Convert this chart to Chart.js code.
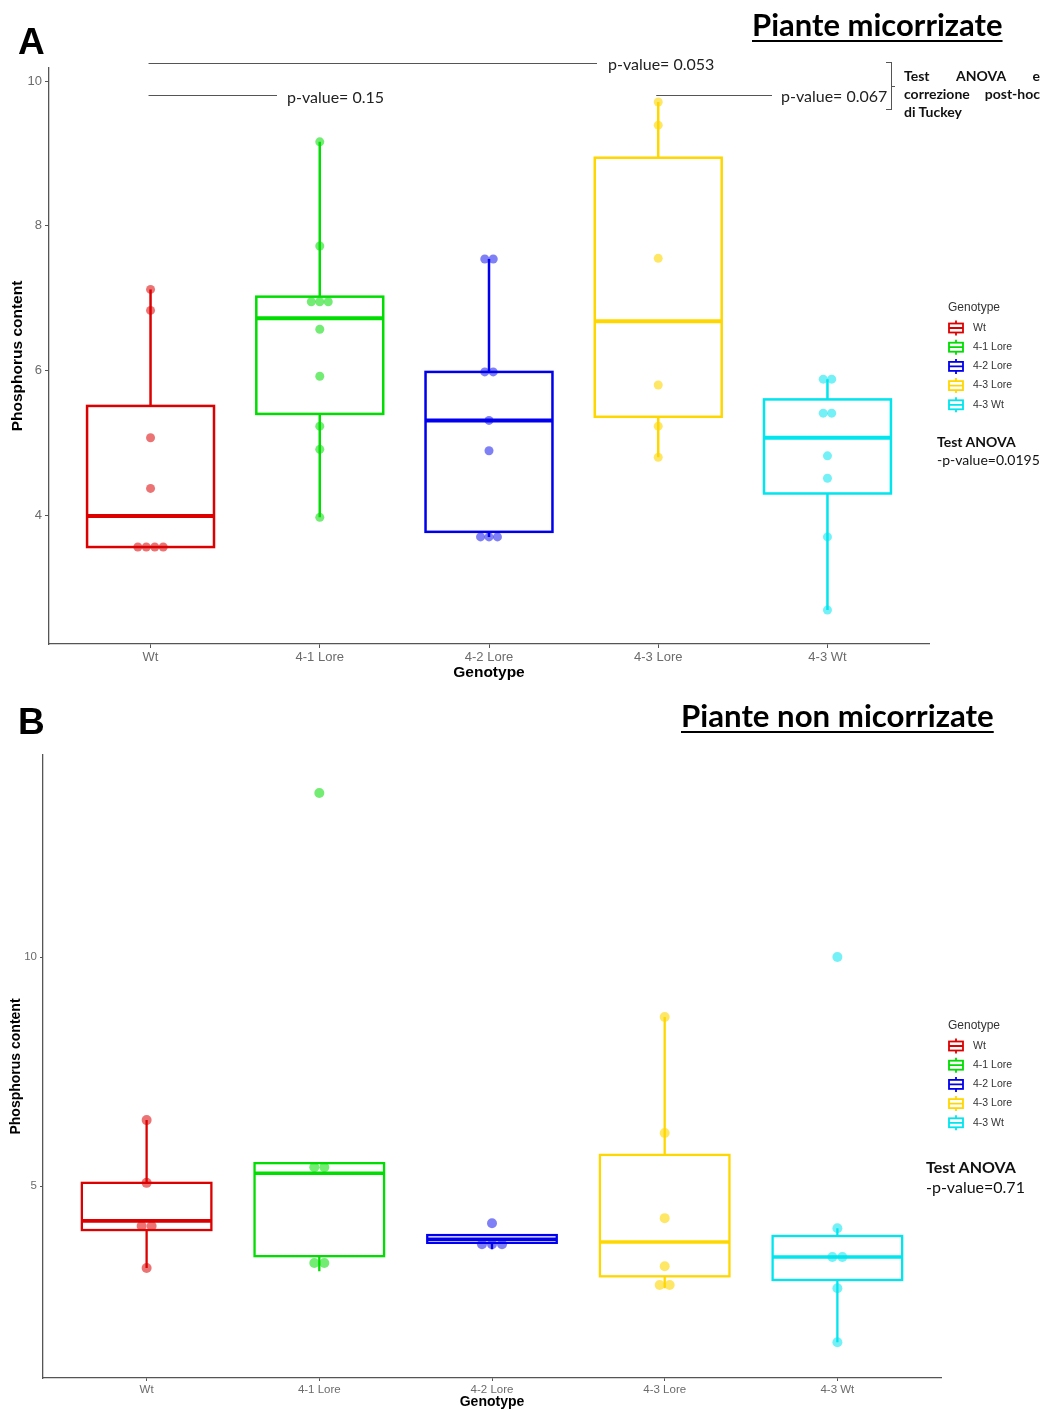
<!DOCTYPE html>
<html lang="it">
<head>
    <meta charset="UTF-8">
    <title>Phosphorus content</title>
    <script src="https://cdn.jsdelivr.net/npm/chart.js"></script>
    <style>
        body {
            margin: 0;
            width: 1043px;
            height: 1411px;
            position: relative;
            overflow: hidden;
            background: #fff;
        }
        canvas { position: absolute; left: 0; }
        #chartA { top: 0; }
        #chartB { top: 690px; }
        .txt {
            position: absolute;
            line-height: 1;
            white-space: nowrap;
            color: #000;
            z-index: 2;
        }
        .panel { font: bold 37px 'Liberation Sans', Arial, sans-serif; }
        .title {
            font-family: Lato, 'Open Sans', sans-serif;
            font-weight: bold;
            text-decoration: underline;
            text-decoration-thickness: 2px;
            text-underline-offset: 4px;
        }
        .pval { font: 16px Lato, sans-serif; color: #222; }
        .tukey {
            position: absolute;
            left: 904px;
            top: 66.6px;
            width: 136px;
            font: bold 14px/18px Lato, sans-serif;
            color: #111;
        }
        .tukey div { text-align: justify; text-align-last: justify; }
        .tukey div.last { text-align: left; text-align-last: left; }
        .anova { position: absolute; font-family: Lato, sans-serif; color: #111; }
        .anova b { display: block; }
        .brace {
            position: absolute;
            left: 886px;
            top: 62px;
            width: 5px;
            height: 46px;
            border: 1px solid #555;
            border-left: none;
        }
        .brace::after {
            content: '';
            position: absolute;
            left: 5px;
            top: 23px;
            width: 4px;
            border-top: 1px solid #555;
        }
    </style>
</head>
<body>
    <canvas id="chartA" width="1043" height="690"></canvas>
    <canvas id="chartB" width="1043" height="721"></canvas>

    <div class="txt panel" style="left:18px; top:20.7px;">A</div>
    <div class="txt title" style="left:752px; top:8.5px; font-size:31px;">Piante micorrizate</div>
    <div class="txt pval" style="left:608px; top:53.8px;">p-value= 0.053</div>
    <div class="txt pval" style="left:287px; top:86.5px;">p-value= 0.15</div>
    <div class="txt pval" style="left:781px; top:86px;">p-value= 0.067</div>
    <div class="brace"></div>
    <div class="tukey">
        <div>Test ANOVA e</div>
        <div>correzione post-hoc</div>
        <div class="last">di Tuckey</div>
    </div>
    <div class="anova" style="left:937px; top:432.6px; font-size:14px; line-height:18px;">
        <b>Test ANOVA</b>-p-value=0.0195
    </div>

    <div class="txt panel" style="left:18px; top:700.7px;">B</div>
    <div class="txt title" style="left:681px; top:699.5px; font-size:31.2px;">Piante non micorrizate</div>
    <div class="anova" style="left:926px; top:1157.4px; font-size:16px; line-height:20px;">
        <b>Test ANOVA</b>-p-value=0.71
    </div>

    <script>
        const genotypes = ['Wt', '4-1 Lore', '4-2 Lore', '4-3 Lore', '4-3 Wt'];

        // A - piante micorrizate
        const pointsA = [
            [7.12, 6.83, 5.07, 4.37, 3.56, 3.56, 3.56, 3.56],
            [9.16, 7.72, 6.95, 6.95, 6.95, 6.57, 5.92, 5.23, 4.91, 3.97],
            [7.54, 7.54, 5.98, 5.98, 5.31, 4.89, 3.70, 3.70, 3.70],
            [9.71, 9.39, 7.55, 5.80, 5.23, 4.80],
            [5.88, 5.88, 5.41, 5.41, 4.82, 4.51, 3.70, 2.69]
        ];
        const lowA = [3.56, 3.97, 3.70, 4.80, 2.69];
        const q1A = [3.56, 5.40, 3.77, 5.36, 4.30];
        const medianA = [3.99, 6.72, 5.31, 6.68, 5.07];
        const q3A = [5.51, 7.02, 5.98, 8.94, 5.60];
        const highA = [7.12, 9.16, 7.54, 9.71, 5.88];
        const yTicksA = [4, 6, 8, 10];

        // B - piante non micorrizate
        const pointsB = [
            [6.44, 5.07, 4.13, 4.13, 3.21],
            [13.58, 5.41, 5.41, 3.32, 3.32],
            [4.19, 3.73, 3.73, 3.73],
            [8.69, 6.16, 4.30, 3.25, 2.84, 2.84],
            [10.0, 4.08, 3.45, 3.45, 2.77, 1.59]
        ];
        const lowB = [3.21, 3.14, 3.62, 2.77, 1.59];
        const q1B = [4.04, 3.47, 3.76, 3.03, 2.95];
        const medianB = [4.24, 5.28, 3.84, 3.78, 3.45];
        const q3B = [5.07, 5.50, 3.93, 5.68, 3.91];
        const highB = [6.44, 5.50, 3.93, 8.69, 4.08];
        const yTicksB = [5, 10];

        const lineColors = ['#dd0000', '#00dd00', '#0000ee', '#ffd700', '#00e5ee'];
        const dotColors = ['rgba(221,0,0,0.55)', 'rgba(0,221,0,0.55)', 'rgba(0,0,238,0.5)',
                           'rgba(255,215,0,0.6)', 'rgba(0,229,238,0.55)'];

        const labelFont = "'Liberation Sans', Arial, sans-serif";

        // same values sit side by side, like a centred dotplot
        function stackDots(values, idx, step) {
            const counts = {};
            values.forEach(v => counts[v] = (counts[v] || 0) + 1);
            const seen = {};
            return values.map(v => {
                seen[v] = (seen[v] || 0) + 1;
                const n = counts[v];
                return { x: idx + (seen[v] - 1 - (n - 1) / 2) * step, y: v };
            });
        }

        function boxPlugin(stats, style) {
            return {
                id: 'boxes',
                beforeDatasetsDraw(chart) {
                    const { ctx, scales: { x, y } } = chart;
                    ctx.save();
                    genotypes.forEach((g, i) => {
                        const cx = x.getPixelForValue(i);
                        const hw = x.getPixelForValue(i + 0.375) - cx;
                        const yLo = y.getPixelForValue(stats.low[i]);
                        const yQ1 = y.getPixelForValue(stats.q1[i]);
                        const yMed = y.getPixelForValue(stats.median[i]);
                        const yQ3 = y.getPixelForValue(stats.q3[i]);
                        const yHi = y.getPixelForValue(stats.high[i]);
                        ctx.strokeStyle = lineColors[i];
                        ctx.lineWidth = style.line;
                        ctx.beginPath();
                        ctx.moveTo(cx, yHi); ctx.lineTo(cx, yQ3);
                        ctx.moveTo(cx, yQ1); ctx.lineTo(cx, yLo);
                        ctx.stroke();
                        ctx.strokeRect(cx - hw, yQ3, 2 * hw, yQ1 - yQ3);
                        ctx.lineWidth = style.median;
                        ctx.beginPath();
                        ctx.moveTo(cx - hw, yMed); ctx.lineTo(cx + hw, yMed);
                        ctx.stroke();
                    });
                    ctx.restore();
                }
            };
        }

        function legendPlugin(pos) {
            return {
                id: 'genoLegend',
                afterDraw(chart) {
                    const { ctx, chartArea } = chart;
                    const x0 = chartArea.right + pos.dx;
                    ctx.save();
                    ctx.textBaseline = 'middle';
                    ctx.fillStyle = '#333';
                    ctx.font = '12px ' + labelFont;
                    ctx.fillText('Genotype', x0, pos.titleY);
                    ctx.font = '10.5px ' + labelFont;
                    genotypes.forEach((g, i) => {
                        const cy = pos.firstY + i * pos.step;
                        ctx.strokeStyle = lineColors[i];
                        ctx.lineWidth = 1.8;
                        ctx.strokeRect(x0 + 1, cy - 4.5, 14, 9);
                        ctx.beginPath();
                        ctx.moveTo(x0 + 1, cy); ctx.lineTo(x0 + 15, cy);
                        ctx.moveTo(x0 + 8, cy - 7.5); ctx.lineTo(x0 + 8, cy - 4.5);
                        ctx.moveTo(x0 + 8, cy + 4.5); ctx.lineTo(x0 + 8, cy + 7.5);
                        ctx.stroke();
                        ctx.fillStyle = '#333';
                        ctx.fillText(g, x0 + 25, cy);
                    });
                    ctx.restore();
                }
            };
        }

        // comparison lines above panel A (start at the group centre)
        const pLinesA = [
            { from: 0, endX: 597, y: 63 },
            { from: 0, endX: 277, y: 95 },
            { from: 3, endX: 772, y: 95 }
        ];
        const pLinePlugin = {
            id: 'pLines',
            afterDraw(chart) {
                const { ctx, scales: { x } } = chart;
                ctx.save();
                ctx.strokeStyle = '#555';
                ctx.lineWidth = 1;
                pLinesA.forEach(l => {
                    ctx.beginPath();
                    ctx.moveTo(x.getPixelForValue(l.from) - 2, l.y + 0.5);
                    ctx.lineTo(l.endX, l.y + 0.5);
                    ctx.stroke();
                });
                ctx.restore();
            }
        };

        function makePanel(id, cfg) {
            const datasets = genotypes.map((g, i) => ({
                label: g,
                data: stackDots(cfg.points[i], i, cfg.dotStep),
                backgroundColor: dotColors[i],
                borderWidth: 0,
                pointRadius: cfg.dotRadius,
                pointHoverRadius: cfg.dotRadius
            }));
            return new Chart(document.getElementById(id), {
                type: 'scatter',
                data: { datasets },
                options: {
                    responsive: false,
                    animation: false,
                    events: [],
                    layout: { padding: cfg.padding },
                    plugins: {
                        legend: { display: false },
                        tooltip: { enabled: false }
                    },
                    scales: {
                        x: {
                            type: 'linear',
                            min: -0.6,
                            max: 4.6,
                            afterFit: s => { s.height = cfg.xHeight; },
                            afterBuildTicks: s => { s.ticks = genotypes.map((g, i) => ({ value: i })); },
                            ticks: {
                                callback: v => genotypes[v],
                                color: '#6b6b6b',
                                font: { family: labelFont, size: cfg.tickSize },
                                padding: cfg.xTickPad,
                                maxRotation: 0,
                                autoSkip: false
                            },
                            grid: { drawOnChartArea: false, tickLength: cfg.tickLen, tickColor: '#555' },
                            border: { color: '#555', width: 1.3 },
                            title: {
                                display: true,
                                text: 'Genotype',
                                color: '#000',
                                font: { family: labelFont, size: cfg.titleSize, weight: 'bold' },
                                padding: { top: 0, bottom: cfg.xTitlePad }
                            }
                        },
                        y: {
                            min: cfg.yMin,
                            max: cfg.yMax,
                            afterFit: s => { s.width = cfg.yWidth; },
                            afterBuildTicks: s => { s.ticks = cfg.yTicks.map(v => ({ value: v })); },
                            ticks: {
                                color: '#6b6b6b',
                                font: { family: labelFont, size: cfg.tickSize },
                                padding: 3
                            },
                            grid: { drawOnChartArea: false, tickLength: cfg.tickLen, tickColor: '#555' },
                            border: { color: '#555', width: 1.3 },
                            title: {
                                display: true,
                                text: 'Phosphorus content',
                                color: '#000',
                                font: { family: labelFont, size: cfg.titleSize, weight: 'bold' },
                                padding: { top: cfg.yTitlePad, bottom: 0 }
                            }
                        }
                    }
                },
                plugins: [boxPlugin(cfg.stats, cfg.boxStyle), legendPlugin(cfg.legend)].concat(cfg.extra || [])
            });
        }

        makePanel('chartA', {
            points: pointsA,
            stats: { low: lowA, q1: q1A, median: medianA, q3: q3A, high: highA },
            yTicks: yTicksA,
            yMin: 2.22, yMax: 10.18,
            padding: { top: 68, right: 114, bottom: 0, left: 0 },
            xHeight: 46, yWidth: 49,
            tickSize: 13, tickLen: 4, xTickPad: 2,
            titleSize: 15.5, xTitlePad: 7.7, yTitlePad: 8,
            dotStep: 0.05, dotRadius: 4.5,
            boxStyle: { line: 2.5, median: 4 },
            legend: { dx: 19, titleY: 308, firstY: 328, step: 19.2 },
            extra: [pLinePlugin]
        });

        makePanel('chartB', {
            points: pointsB,
            stats: { low: lowB, q1: q1B, median: medianB, q3: q3B, high: highB },
            yTicks: yTicksB,
            yMin: 0.81, yMax: 14.41,
            padding: { top: 65, right: 102, bottom: 0, left: 0 },
            xHeight: 33, yWidth: 43,
            tickSize: 11.5, tickLen: 3, xTickPad: 2,
            titleSize: 14, xTitlePad: 0, yTitlePad: 7.6,
            dotStep: 0.058, dotRadius: 5,
            boxStyle: { line: 2.3, median: 3.6 },
            legend: { dx: 7, titleY: 336, firstY: 356, step: 19.2 }
        });
    </script>
</body>
</html>
